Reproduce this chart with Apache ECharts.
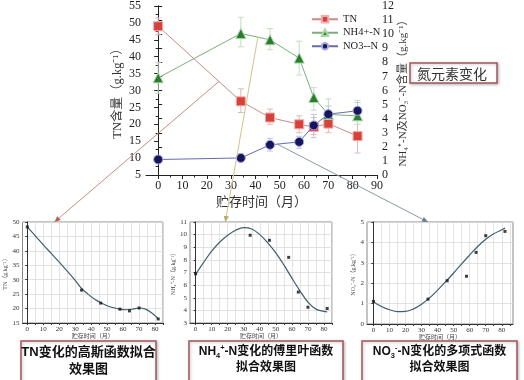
<!DOCTYPE html>
<html><head><meta charset="utf-8">
<script src="https://cdn.jsdelivr.net/npm/echarts@6/dist/echarts.min.js"></script>
<style>html,body{margin:0;padding:0;background:#fff}#c{width:524px;height:380px}</style>
</head><body><div id="c"></div>
<script>
// ---------- main chart data ----------
const months = [0, 34, 46, 58, 64, 70, 82];
const tn  = [49, 26.8, 22, 20, 19.2, 20.2, 16.5];
const nh4 = [6.9, 10.05, 9.6, 8.3, 5.5, 4.3, 4.2];
const no3 = [1.1, 1.21, 2.14, 2.35, 3.52, 4.32, 4.56];
const tnErr  = [[46.5,51.5],[23.5,30.5],[20,24.5],[17.5,22.5],[17,22],[17.5,23],[11.5,21.5]];
const nh4Err = [[5.8,8.0],[9.1,11.2],[8.9,10.4],[7.1,9.5],[4.6,6.2],[3.8,5.4],[3.6,5.3]];
const no3Err = [[0.95,1.25],[0.95,1.5],[1.7,2.6],[1.9,2.75],[2.65,4.3],[3.85,4.9],[3.95,5.15]];
const mainXLabels = [0,10,20,30,40,50,60,70,80,90];
const mainXMinor  = [5,15,25,35,45,55,65,75,85];
const legendNames = ['TN', 'NH4+-N', 'NO3--N'];

// ---------- fitted sub charts ----------
const subXLabels = [0,10,20,30,40,50,60,70,80];
const subXGrid   = [0,5,10,15,20,25,30,35,40,45,50,55,60,65,70,75,80,85];
const tnSub  = [48.3, 26.4, 21.9, 19.8, 19.2, 20.2, 16.4];
const tnCurveX = [0,5,10,15,20,25,30,34,38,42,46,50,54,58,62,66,70,74,78,82];
const tnCurveY = [48.3,45.2,42.1,39.1,36.1,33.0,29.8,27.0,25.0,23.3,22.0,21.0,20.3,19.8,19.6,19.8,20.2,19.8,18.5,16.5];
const nh4Sub = [6.9, 9.95, 9.55, 8.2, 5.45, 4.25, 4.15];
const nh4CurveX = [0,5,10,15,20,25,30,35,40,45,50,55,60,65,70,75,80,82];
const nh4CurveY = [6.85,7.8,8.7,9.4,9.95,10.35,10.55,10.45,10.0,9.35,8.55,7.6,6.55,5.55,4.65,4.1,3.92,3.88];
const no3Sub = [1.11, 1.22, 2.12, 2.34, 3.51, 4.33, 4.54];
const no3CurveX = [0,5,10,15,20,25,30,35,40,45,50,55,60,65,70,75,80,82];
const no3CurveY = [1.08,0.86,0.70,0.61,0.62,0.74,0.97,1.28,1.66,2.07,2.5,2.95,3.38,3.8,4.15,4.42,4.62,4.70];

const SERIF = "'Liberation Serif','Noto Sans CJK SC',serif";
const SANS = "'Liberation Sans','Noto Sans CJK SC',sans-serif";
const zip = (xs, ys) => xs.map((x, i) => [x, ys[i]]);

const chart = echarts.init(document.getElementById('c'), null, {renderer: 'canvas'});

function errSeries(yIdx, err, color) {
  return {
    type: 'custom', xAxisIndex: 0, yAxisIndex: yIdx, silent: true, z: 1,
    data: months.map((m, i) => [m, err[i][0], err[i][1]]),
    renderItem: (params, api) => {
      const x = api.value(0);
      const lo = api.coord([x, api.value(1)]);
      const hi = api.coord([x, api.value(2)]);
      const w = 3, st = {stroke: color, lineWidth: 1};
      return {type: 'group', children: [
        {type: 'line', shape: {x1: lo[0], y1: lo[1], x2: hi[0], y2: hi[1]}, style: st},
        {type: 'line', shape: {x1: lo[0]-w, y1: lo[1], x2: lo[0]+w, y2: lo[1]}, style: st},
        {type: 'line', shape: {x1: hi[0]-w, y1: hi[1], x2: hi[0]+w, y2: hi[1]}, style: st}
      ]};
    }
  };
}

function subX(grid, min, max) {
  return {
    gridIndex: grid, type: 'value', min: min, max: max,
    name: '贮存时间（月）', nameLocation: 'middle', nameGap: 9,
    nameTextStyle: {fontSize: 6, color: '#444', fontFamily: SERIF},
    axisLine: {lineStyle: {color: '#333', width: 1}},
    axisTick: {customValues: subXGrid.filter(v => v <= max), length: 2, lineStyle: {color: '#333'}},
    axisLabel: {customValues: subXLabels, fontSize: 7, margin: 3, color: '#333', fontFamily: SERIF},
    splitLine: {show: true, lineStyle: {color: '#dcdcdc', width: 0.8}}
  };
}
function subY(grid, min, max, interval, name, gap) {
  return {
    gridIndex: grid, type: 'value', min: min, max: max, interval: interval,
    name: name, nameLocation: 'middle', nameGap: gap,
    nameTextStyle: {fontSize: 6, color: '#444', fontFamily: SERIF},
    axisLine: {show: true, lineStyle: {color: '#333', width: 1}},
    axisTick: {show: true, length: 2, lineStyle: {color: '#333'}},
    axisLabel: {fontSize: 7, margin: 3, color: '#333', fontFamily: SERIF},
    splitLine: {show: true, lineStyle: {color: '#dcdcdc', width: 0.8}}
  };
}
function fitSeries(xi, curveX, curveY, pts) {
  return [
    {type: 'line', xAxisIndex: xi, yAxisIndex: xi, data: zip(curveX, curveY), smooth: 0.4,
     symbol: 'none', lineStyle: {color: '#3f5f6e', width: 1.2}, silent: true, z: 2},
    {type: 'scatter', xAxisIndex: xi, yAxisIndex: xi, data: zip(months, pts), symbol: 'rect',
     symbolSize: 3, itemStyle: {color: '#111'}, silent: true, z: 3}
  ];
}

const option = {
  animation: false,
  backgroundColor: '#fff',
  grid: [
    {left: 146, top: 4, width: 231, height: 171},
    {left: 22.5, top: 222, width: 140.5, height: 101, show: true, borderColor: '#888', borderWidth: 1},
    {left: 190, top: 222, width: 142, height: 101, show: true, borderColor: '#888', borderWidth: 1},
    {left: 367, top: 222, width: 146, height: 102, show: true, borderColor: '#888', borderWidth: 1}
  ],
  legend: {
    data: legendNames, orient: 'vertical', left: 306, top: 9, itemGap: 3,
    itemWidth: 26, itemHeight: 8,
    textStyle: {fontFamily: SERIF, fontSize: 10.5, color: '#222'}
  },
  xAxis: [
    {gridIndex: 0, type: 'value', min: -5, max: 90, position: 'bottom',
     name: '贮存时间（月）', nameLocation: 'middle', nameGap: 21,
     nameTextStyle: {fontSize: 13, color: '#333', fontFamily: SERIF},
     axisLine: {lineStyle: {color: '#222', width: 1}},
     axisTick: {customValues: mainXLabels, length: 4, lineStyle: {color: '#222'}},
     axisLabel: {customValues: mainXLabels, fontSize: 12, margin: 5, color: '#222', fontFamily: SERIF},
     splitLine: {show: false}},
    {gridIndex: 0, type: 'value', min: -5, max: 90, position: 'bottom',
     axisLine: {show: false},
     axisTick: {customValues: mainXMinor, length: 2.5, lineStyle: {color: '#222'}},
     axisLabel: {show: false}, splitLine: {show: false}},
    subX(1, -3, 85), subX(2, -3.5, 85), subX(3, -4, 87)
  ],
  yAxis: [
    {gridIndex: 0, type: 'value', min: 5, max: 55, interval: 5, position: 'left',
     name: 'TN含量（g.kg⁻¹）', nameLocation: 'middle', nameGap: 22,
     nameTextStyle: {fontSize: 12.5, color: '#333', fontFamily: SERIF},
     axisLine: {show: true, lineStyle: {color: '#222', width: 1}},
     axisTick: {show: true, length: 4, lineStyle: {color: '#222'}},
     minorTick: {show: true, splitNumber: 2, length: 2.5, lineStyle: {color: '#222'}},
     axisLabel: {fontSize: 12, margin: 5, color: '#222', fontFamily: SERIF},
     splitLine: {show: false}},
    {gridIndex: 0, type: 'value', min: 0, max: 12, interval: 1, position: 'right',
     name: 'NH₄⁺-N及NO₃⁻-N含量（g.kg⁻¹）', nameLocation: 'middle', nameGap: 17,
     nameTextStyle: {fontSize: 11, color: '#333', fontFamily: SERIF},
     axisLine: {show: true, lineStyle: {color: '#222', width: 1}},
     axisTick: {show: true, length: 4, lineStyle: {color: '#222'}},
     axisLabel: {fontSize: 12, margin: 5, color: '#222', fontFamily: SERIF},
     splitLine: {show: false}},
    subY(1, 15, 50, 5, 'TN（g.kg⁻¹）', 10),
    subY(2, 3, 11, 1, 'NH₄⁺-N（g.kg⁻¹）', 8),
    subY(3, 0, 5, 1, 'NO₃⁻-N（g.kg⁻¹）', 8)
  ],
  series: [
    errSeries(0, tnErr, '#e2b8b8'),
    errSeries(1, nh4Err, '#c4dcc0'),
    errSeries(1, no3Err, '#bcc4e0'),
    {name: 'TN', type: 'line', xAxisIndex: 0, yAxisIndex: 0, data: zip(months, tn),
     symbol: 'rect', symbolSize: 9, z: 3,
     lineStyle: {color: '#c98a86', width: 1},
     itemStyle: {color: '#d6423b', borderColor: '#f2aaaa', borderWidth: 1}},
    {name: 'NH4+-N', type: 'line', xAxisIndex: 0, yAxisIndex: 1, data: zip(months, nh4),
     symbol: 'triangle', symbolSize: 10, z: 3,
     lineStyle: {color: '#7cae7c', width: 1},
     itemStyle: {color: '#2a7d2a', borderColor: '#a8d4a8', borderWidth: 1}},
    {name: 'NO3--N', type: 'line', xAxisIndex: 0, yAxisIndex: 1, data: zip(months, no3),
     symbol: 'circle', symbolSize: 9, z: 4,
     lineStyle: {color: '#6a6aae', width: 1},
     itemStyle: {color: '#15165e', borderColor: '#a6a6dc', borderWidth: 1}},
    ...fitSeries(2, tnCurveX, tnCurveY, tnSub),
    ...fitSeries(3, nh4CurveX, nh4CurveY, nh4Sub),
    ...fitSeries(4, no3CurveX, no3CurveY, no3Sub)
  ]
};
chart.setOption(option);

// ---------- annotations (boxes, captions, arrows) ----------
function px(xi, yi, x, y) {
  return [chart.convertToPixel({xAxisIndex: xi}, x), chart.convertToPixel({yAxisIndex: yi}, y)];
}
function lerpSeries(xs, ys, x) {
  for (let i = 0; i < xs.length - 1; i++) {
    if (x >= xs[i] && x <= xs[i+1]) {
      const t = (x - xs[i]) / (xs[i+1] - xs[i]);
      return ys[i] + t * (ys[i+1] - ys[i]);
    }
  }
  return ys[ys.length - 1];
}
function arrow(p0, p1, lineColor, headColor) {
  const dx = p1[0] - p0[0], dy = p1[1] - p0[1];
  const L = Math.hypot(dx, dy), ux = dx / L, uy = dy / L;
  const hl = 6, hw = 2.6;
  const bx = p1[0] - ux * hl, by = p1[1] - uy * hl;
  return [
    {type: 'line', z: 50, silent: true, shape: {x1: p0[0], y1: p0[1], x2: bx, y2: by},
     style: {stroke: lineColor, lineWidth: 1}},
    {type: 'polygon', z: 50, silent: true,
     shape: {points: [[p1[0], p1[1]], [bx - uy * hw, by + ux * hw], [bx + uy * hw, by - ux * hw]]},
     style: {fill: headColor}}
  ];
}
function box(x, y, w, h) {
  return {type: 'rect', z: 40, silent: true, shape: {x: x, y: y, width: w, height: h},
    style: {fill: '#fff', stroke: '#a4545e', lineWidth: 1.5,
            shadowBlur: 3, shadowColor: 'rgba(0,0,0,0.25)', shadowOffsetX: 1, shadowOffsetY: 1}};
}
function caption(cx, y, text, size) {
  return {type: 'text', z: 41, silent: true,
    style: {text: text, x: cx, y: y, align: 'center', textAlign: 'center',
      verticalAlign: 'top', textVerticalAlign: 'top', lineHeight: size + 4,
      rich: {
        a: {fontSize: size, fontWeight: 'bold', fontFamily: SANS, fill: '#111', lineHeight: size + 4},
        s: {fontSize: size * 0.62, fontWeight: 'bold', fontFamily: SANS, fill: '#111', verticalAlign: 'bottom', lineHeight: size + 4},
        p: {fontSize: size * 0.62, fontWeight: 'bold', fontFamily: SANS, fill: '#111', verticalAlign: 'top', lineHeight: size + 4}
      }}};
}

const aTN  = px(0, 0, 25, lerpSeries(months, tn, 25));
const aNH4 = px(0, 1, 41, lerpSeries(months, nh4, 41));
const aNO3 = px(0, 1, 49, lerpSeries(months, no3, 49));
const eTN  = px(2, 2, 17, 50);
const eNH4 = px(3, 3, 18.5, 11);
const eNO3 = px(4, 4, 34, 5);

chart.setOption({
  graphic: [
    ...arrow(aTN, eTN, '#c49080', '#c0584a'),
    ...arrow(aNH4, eNH4, '#cfc48e', '#b8a860'),
    ...arrow(aNO3, eNO3, '#8a98aa', '#6a7a90'),
    box(410, 63, 87, 20),
    {type: 'text', z: 41, silent: true,
     style: {text: '氮元素变化', x: 417, y: 73.5, verticalAlign: 'middle', textVerticalAlign: 'middle',
       fontSize: 14, fontFamily: "'Noto Sans CJK SC',sans-serif", fill: '#333'}},
    box(21, 341, 135, 42),
    caption(88.5, 344, '{a|TN变化的高斯函数拟合}\n{a|效果图}', 13),
    box(189, 341, 154, 42),
    caption(266, 344, '{a|NH}{s|4}{p|+}{a|-N变化的傅里叶函数}\n{a|拟合效果图}', 12),
    box(362, 341, 155, 42),
    caption(439.5, 344, '{a|NO}{s|3}{p|-}{a|-N变化的多项式函数}\n{a|拟合效果图}', 12)
  ]
});
</script></body></html>
